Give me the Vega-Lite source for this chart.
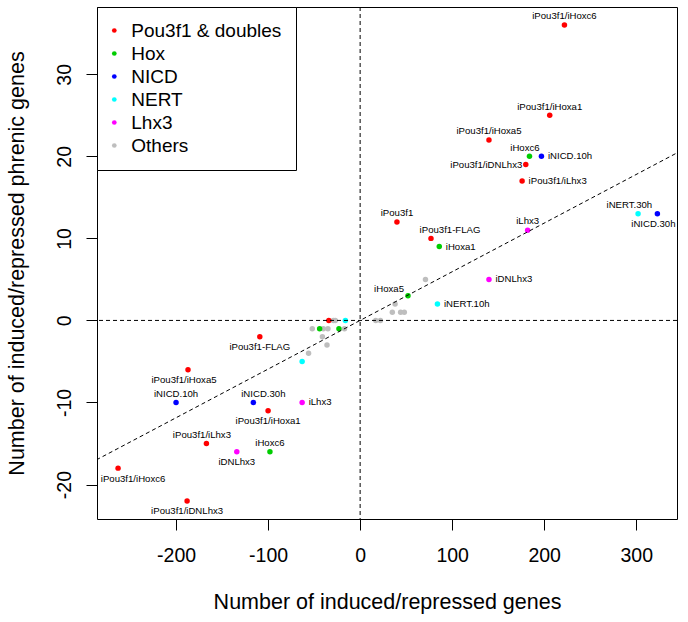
{
  "$schema": "https://vega.github.io/schema/vega-lite/v6.json",
  "width": 580,
  "height": 512,
  "autosize": {"type": "none"},
  "padding": {"left": 97, "top": 7, "right": 11, "bottom": 103},
  "background": "white",
  "datasets": {
    "samples": [
      {"label": "iPou3f1/iHoxc6", "group": "Pou3f1 & doubles", "set": "induced", "genes": 222, "phrenic": 36},
      {"label": "iPou3f1/iHoxa1", "group": "Pou3f1 & doubles", "set": "induced", "genes": 206, "phrenic": 25},
      {"label": "iPou3f1/iHoxa5", "group": "Pou3f1 & doubles", "set": "induced", "genes": 140, "phrenic": 22},
      {"label": "iPou3f1/iDNLhx3", "group": "Pou3f1 & doubles", "set": "induced", "genes": 180, "phrenic": 19},
      {"label": "iPou3f1/iLhx3", "group": "Pou3f1 & doubles", "set": "induced", "genes": 176, "phrenic": 17},
      {"label": "iPou3f1", "group": "Pou3f1 & doubles", "set": "induced", "genes": 40, "phrenic": 12},
      {"label": "iPou3f1-FLAG", "group": "Pou3f1 & doubles", "set": "induced", "genes": 77, "phrenic": 10},
      {"label": "iHoxc6", "group": "Hox", "set": "induced", "genes": 184, "phrenic": 20},
      {"label": "iHoxa1", "group": "Hox", "set": "induced", "genes": 86, "phrenic": 9},
      {"label": "iHoxa5", "group": "Hox", "set": "induced", "genes": 52, "phrenic": 3},
      {"label": "iNICD.10h", "group": "NICD", "set": "induced", "genes": 197, "phrenic": 20},
      {"label": "iNICD.30h", "group": "NICD", "set": "induced", "genes": 323, "phrenic": 13},
      {"label": "iNERT.30h", "group": "NERT", "set": "induced", "genes": 302, "phrenic": 13},
      {"label": "iNERT.10h", "group": "NERT", "set": "induced", "genes": 84, "phrenic": 2},
      {"label": "iLhx3", "group": "Lhx3", "set": "induced", "genes": 182, "phrenic": 11},
      {"label": "iDNLhx3", "group": "Lhx3", "set": "induced", "genes": 140, "phrenic": 5},
      {"label": "", "group": "Others", "set": "induced", "genes": 71, "phrenic": 5},
      {"label": "", "group": "Others", "set": "induced", "genes": 38, "phrenic": 2},
      {"label": "", "group": "Others", "set": "induced", "genes": 35, "phrenic": 1},
      {"label": "", "group": "Others", "set": "induced", "genes": 44, "phrenic": 1},
      {"label": "", "group": "Others", "set": "induced", "genes": 48, "phrenic": 1},
      {"label": "", "group": "Others", "set": "induced", "genes": 17, "phrenic": 0},
      {"label": "", "group": "Others", "set": "induced", "genes": 22, "phrenic": 0},
      {"label": "iPou3f1/iHoxc6", "group": "Pou3f1 & doubles", "set": "repressed", "genes": -263, "phrenic": -18},
      {"label": "iPou3f1/iHoxa1", "group": "Pou3f1 & doubles", "set": "repressed", "genes": -100, "phrenic": -11},
      {"label": "iPou3f1/iHoxa5", "group": "Pou3f1 & doubles", "set": "repressed", "genes": -187, "phrenic": -6},
      {"label": "iPou3f1/iDNLhx3", "group": "Pou3f1 & doubles", "set": "repressed", "genes": -188, "phrenic": -22},
      {"label": "iPou3f1/iLhx3", "group": "Pou3f1 & doubles", "set": "repressed", "genes": -167, "phrenic": -15},
      {"label": "iPou3f1-FLAG", "group": "Pou3f1 & doubles", "set": "repressed", "genes": -109, "phrenic": -2},
      {"label": "", "group": "Others", "set": "repressed", "genes": -29, "phrenic": 0},
      {"label": "", "group": "Others", "set": "repressed", "genes": -27, "phrenic": 0},
      {"label": "", "group": "Others", "set": "repressed", "genes": -52, "phrenic": -1},
      {"label": "", "group": "Others", "set": "repressed", "genes": -40, "phrenic": -1},
      {"label": "", "group": "Others", "set": "repressed", "genes": -35, "phrenic": -1},
      {"label": "", "group": "Others", "set": "repressed", "genes": -17, "phrenic": -1},
      {"label": "", "group": "Others", "set": "repressed", "genes": -41, "phrenic": -2},
      {"label": "", "group": "Others", "set": "repressed", "genes": -36, "phrenic": -3},
      {"label": "", "group": "Others", "set": "repressed", "genes": -56, "phrenic": -4},
      {"label": "", "group": "Pou3f1 & doubles", "set": "repressed", "genes": -34, "phrenic": 0},
      {"label": "iHoxc6", "group": "Hox", "set": "repressed", "genes": -98, "phrenic": -16},
      {"label": "", "group": "Hox", "set": "repressed", "genes": -44, "phrenic": -1},
      {"label": "", "group": "Hox", "set": "repressed", "genes": -23, "phrenic": -1},
      {"label": "iNICD.10h", "group": "NICD", "set": "repressed", "genes": -200, "phrenic": -10},
      {"label": "iNICD.30h", "group": "NICD", "set": "repressed", "genes": -116, "phrenic": -10},
      {"label": "", "group": "NERT", "set": "repressed", "genes": -16, "phrenic": 0},
      {"label": "", "group": "NERT", "set": "repressed", "genes": -63, "phrenic": -5},
      {"label": "iLhx3", "group": "Lhx3", "set": "repressed", "genes": -63, "phrenic": -10},
      {"label": "iDNLhx3", "group": "Lhx3", "set": "repressed", "genes": -134, "phrenic": -16}
    ],
    "fit": [
      {"genes": -300, "phrenic": -17.79},
      {"genes": 360, "phrenic": 21.35}
    ],
    "origin": [
      {"genes": 0, "phrenic": 0}
    ]
  },
  "layer": [
    {
      "data": {"name": "samples"},
      "mark": {"type": "circle", "size": 30, "opacity": 1},
      "encoding": {
        "x": {
          "field": "genes", "type": "quantitative",
          "scale": {"domain": [-285.9, 344.3], "nice": false, "zero": false},
          "axis": {
            "title": "Number of induced/repressed genes",
            "values": [-200, -100, 0, 100, 200, 300],
            "labelExpr": "'' + datum.value",
            "labelPadding": 16.5,
            "labelFlush": false,
            "labelOverlap": false,
            "titleX": 290,
            "titleY": 89.7,
            "titleBaseline": "alphabetic",
            "titleAlign": "center",
            "titleAnchor": "middle"
          }
        },
        "y": {
          "field": "phrenic", "type": "quantitative",
          "scale": {"domain": [-24.2, 38.2], "nice": false, "zero": false},
          "axis": {
            "title": "Number of induced/repressed phrenic genes",
            "values": [-20, -10, 0, 10, 20, 30],
            "labelExpr": "'' + datum.value",
            "labelAngle": -90,
            "labelAlign": "center",
            "labelBaseline": "alphabetic",
            "labelPadding": 16,
            "labelFlush": false,
            "labelOverlap": false,
            "titleAngle": -90,
            "titleX": -74,
            "titleY": 256,
            "titleBaseline": "alphabetic",
            "titleAlign": "center",
            "titleAnchor": "middle"
          }
        },
        "color": {
          "field": "group", "type": "nominal",
          "scale": {
            "domain": ["Pou3f1 & doubles", "Hox", "NICD", "NERT", "Lhx3", "Others"],
            "range": ["#FF0000", "#00CD00", "#0000FF", "#00FFFF", "#FF00FF", "#BEBEBE"]
          },
          "legend": {
            "title": null,
            "orient": "top-left",
            "offset": 0,
            "padding": 14,
            "strokeColor": "black",
            "fillColor": "white",
            "labelFontSize": 19,
            "labelFont": "Liberation Sans",
            "labelColor": "black",
            "symbolType": "circle",
            "symbolSize": 22,
            "symbolStrokeWidth": 0,
            "symbolOpacity": 1,
            "symbolOffset": -6.2,
            "labelOffset": 7.5,
            "rowPadding": 3.0,
            "labelLimit": 400
          }
        }
      }
    },
    {
      "data": {"name": "origin"},
      "mark": {"type": "rule", "strokeDash": [4, 3], "color": "black", "strokeWidth": 1},
      "encoding": {"x": {"field": "genes", "type": "quantitative"}}
    },
    {
      "data": {"name": "origin"},
      "mark": {"type": "rule", "strokeDash": [4, 3], "color": "black", "strokeWidth": 1},
      "encoding": {"y": {"field": "phrenic", "type": "quantitative"}}
    },
    {
      "data": {"name": "fit"},
      "mark": {"type": "line", "strokeDash": [4, 3], "color": "black", "strokeWidth": 1, "clip": true},
      "encoding": {
        "x": {"field": "genes", "type": "quantitative"},
        "y": {"field": "phrenic", "type": "quantitative"}
      }
    },
    {
      "data": {"name": "samples"},
      "transform": [{"filter": "(datum.set == 'induced' && indexof(['iPou3f1/iHoxc6','iPou3f1/iHoxa1','iPou3f1/iHoxa5','iPou3f1','iLhx3'], datum.label) >= 0) || (datum.set == 'repressed' && indexof(['iNICD.10h','iHoxc6'], datum.label) >= 0)"}],
      "mark": {"type": "text", "fontSize": 9.6, "font": "Liberation Sans", "color": "black", "align": "center", "baseline": "middle", "dy": -8.7},
      "encoding": {"x": {"field": "genes", "type": "quantitative"}, "y": {"field": "phrenic", "type": "quantitative"}, "text": {"field": "label"}}
    },
    {
      "data": {"name": "samples"},
      "transform": [{"filter": "(datum.set == 'induced' && datum.label == 'iHoxc6') || (datum.set == 'repressed' && datum.label == 'iPou3f1/iLhx3')"}],
      "mark": {"type": "text", "fontSize": 9.6, "font": "Liberation Sans", "color": "black", "align": "center", "baseline": "middle", "dx": -4.5, "dy": -8.7},
      "encoding": {"x": {"field": "genes", "type": "quantitative"}, "y": {"field": "phrenic", "type": "quantitative"}, "text": {"field": "label"}}
    },
    {
      "data": {"name": "samples"},
      "transform": [{"filter": "datum.set == 'induced' && datum.label == 'iPou3f1-FLAG'"}],
      "mark": {"type": "text", "fontSize": 9.6, "font": "Liberation Sans", "color": "black", "align": "center", "baseline": "middle", "dx": 19, "dy": -8.7},
      "encoding": {"x": {"field": "genes", "type": "quantitative"}, "y": {"field": "phrenic", "type": "quantitative"}, "text": {"field": "label"}}
    },
    {
      "data": {"name": "samples"},
      "transform": [{"filter": "datum.set == 'repressed' && datum.label == 'iNICD.30h'"}],
      "mark": {"type": "text", "fontSize": 9.6, "font": "Liberation Sans", "color": "black", "align": "center", "baseline": "middle", "dx": 10, "dy": -8.7},
      "encoding": {"x": {"field": "genes", "type": "quantitative"}, "y": {"field": "phrenic", "type": "quantitative"}, "text": {"field": "label"}}
    },
    {
      "data": {"name": "samples"},
      "transform": [{"filter": "datum.set == 'induced' && datum.label == 'iNERT.30h'"}],
      "mark": {"type": "text", "fontSize": 9.6, "font": "Liberation Sans", "color": "black", "align": "center", "baseline": "middle", "dx": -8.7, "dy": -8.7},
      "encoding": {"x": {"field": "genes", "type": "quantitative"}, "y": {"field": "phrenic", "type": "quantitative"}, "text": {"field": "label"}}
    },
    {
      "data": {"name": "samples"},
      "transform": [{"filter": "datum.set == 'repressed' && indexof(['iPou3f1-FLAG','iPou3f1/iHoxa1','iDNLhx3','iPou3f1/iDNLhx3'], datum.label) >= 0"}],
      "mark": {"type": "text", "fontSize": 9.6, "font": "Liberation Sans", "color": "black", "align": "center", "baseline": "middle", "dy": 10},
      "encoding": {"x": {"field": "genes", "type": "quantitative"}, "y": {"field": "phrenic", "type": "quantitative"}, "text": {"field": "label"}}
    },
    {
      "data": {"name": "samples"},
      "transform": [{"filter": "(datum.set == 'repressed' && datum.label == 'iPou3f1/iHoxa5') || (datum.set == 'induced' && datum.label == 'iNICD.30h')"}],
      "mark": {"type": "text", "fontSize": 9.6, "font": "Liberation Sans", "color": "black", "align": "center", "baseline": "middle", "dx": -4, "dy": 10.5},
      "encoding": {"x": {"field": "genes", "type": "quantitative"}, "y": {"field": "phrenic", "type": "quantitative"}, "text": {"field": "label"}}
    },
    {
      "data": {"name": "samples"},
      "transform": [{"filter": "datum.set == 'repressed' && datum.label == 'iPou3f1/iHoxc6'"}],
      "mark": {"type": "text", "fontSize": 9.6, "font": "Liberation Sans", "color": "black", "align": "center", "baseline": "middle", "dx": 15, "dy": 11},
      "encoding": {"x": {"field": "genes", "type": "quantitative"}, "y": {"field": "phrenic", "type": "quantitative"}, "text": {"field": "label"}}
    },
    {
      "data": {"name": "samples"},
      "transform": [{"filter": "(datum.set == 'induced' && indexof(['iNICD.10h','iPou3f1/iLhx3','iHoxa1','iDNLhx3','iNERT.10h'], datum.label) >= 0) || (datum.set == 'repressed' && datum.label == 'iLhx3')"}],
      "mark": {"type": "text", "fontSize": 9.6, "font": "Liberation Sans", "color": "black", "align": "left", "baseline": "middle", "dx": 6.5},
      "encoding": {"x": {"field": "genes", "type": "quantitative"}, "y": {"field": "phrenic", "type": "quantitative"}, "text": {"field": "label"}}
    },
    {
      "data": {"name": "samples"},
      "transform": [{"filter": "datum.set == 'induced' && datum.label == 'iPou3f1/iDNLhx3'"}],
      "mark": {"type": "text", "fontSize": 9.6, "font": "Liberation Sans", "color": "black", "align": "right", "baseline": "middle", "dx": -3.5},
      "encoding": {"x": {"field": "genes", "type": "quantitative"}, "y": {"field": "phrenic", "type": "quantitative"}, "text": {"field": "label"}}
    },
    {
      "data": {"name": "samples"},
      "transform": [{"filter": "datum.set == 'induced' && datum.label == 'iHoxa5'"}],
      "mark": {"type": "text", "fontSize": 9.6, "font": "Liberation Sans", "color": "black", "align": "right", "baseline": "middle", "dx": -4, "dy": -6.5},
      "encoding": {"x": {"field": "genes", "type": "quantitative"}, "y": {"field": "phrenic", "type": "quantitative"}, "text": {"field": "label"}}
    }
  ],
  "config": {
    "font": "Liberation Sans",
    "view": {"stroke": "black", "strokeWidth": 1},
    "axis": {
      "domain": false,
      "grid": false,
      "tickColor": "black",
      "tickSize": 11,
      "tickWidth": 1,
      "labelColor": "black",
      "labelFont": "Liberation Sans",
      "labelFontSize": 19.5,
      "titleColor": "black",
      "titleFont": "Liberation Sans",
      "titleFontSize": 21.5,
      "titleFontWeight": "normal"
    }
  }
}
